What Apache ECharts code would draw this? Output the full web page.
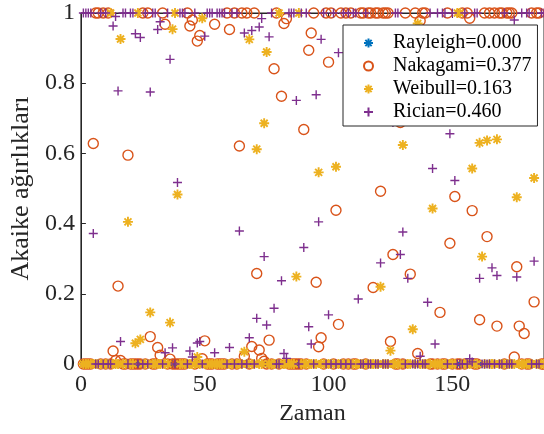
<!DOCTYPE html>
<html>
<head>
<meta charset="utf-8">
<script src="https://cdn.jsdelivr.net/npm/echarts@6/dist/echarts.min.js"></script>
<style>
html,body{margin:0;padding:0;background:#fff;}
#chart{width:544px;height:434px;}
</style>
</head>
<body>
<div id="chart"></div>
<script>
// Akaike weights per time step (Zaman = 1..187)
var rayleigh = [
0,0,0,0,0,0,0,0,0,0, 0,0,0,0,0,0,0,0,0,0, 0,0,0,0,0,0,0,0,0,0, 0,0,0,0,0,0,0,0,0,0,
0,0,0,0,0,0,0,0,0,0, 0,0,0,0,0,0,0,0,0,0, 0,0,0,0,0,0,0,0,0,0, 0,0,0,0,0,0,0,0,0,0,
0,0,0,0,0,0,0,0,0,0, 0,0,0,0,0,0,0,0,0,0, 0,0,0,0,0,0,0,0,0,0, 0,0,0,0,0,0,0,0,0,0,
0,0,0,0,0,0,0,0,0,0, 0,0,0,0,0,0,0,0,0,0, 0,0,0,0,0,0,0,0,0,0, 0,0,0,0,0,0,0,0,0,0,
0,0,0,0,0,0,0,0,0,0, 0,0,0,0,0,0,0,0,0,0, 0,0,0,0,0,0,0,0,0,0, 0,0,0,0,0,0,0,0,0,0,
0,0,0,0,0,0,0
];
var nakagami = [
0,0,0,0,0.628,1,1,0,1,0,
1,0,0.037,0.01,0.222,0.01,0,0,0.595,0,
0,0,0,0,1,0,1,0.078,0,0,
0.047,0.025,1,0.968,0,0.014,0,0,0,0,
0,0,1,0.963,0.98,0,0.92,0.936,0.015,0.066,
0,0,0,0.968,0,0,0,0,1,0.953,
0,1,0,0.621,1,0.022,1,0,0.05,1,
0.258,0.04,0.016,0.008,0,0.068,0,0.841,1,0,
0.763,0.97,0.984,0,0,0,0,0,0,0.668,
0,0.894,0.943,1,0.233,0.049,0.075,0,1,0.86,
1,0,0.438,0.113,1,0,1,0,1,0,
0,0.815,1,1,0,1,1,0.218,1,1,
0.492,1,1,1,0.064,0.312,0,0,0.688,0,
1,0.756,0.256,0.901,1,0.03,0.978,1,1,0.824,
0,0,0.943,0,0.147,0,0,1,0.344,0,
0.477,0,0,1,0,1,0.985,0.437,0,0,
0.126,0.694,1,0.363,1,0.726,1,0.108,1,1,
0,1,1,1,0.02,0.277,0.108,0,0.087,0,
0,1,0.177,1,1,0,0
];
var weibull = [
0,0,0,0,0,0,0,0,0,0,
0,1,0,0,0,0.926,0,0,0.405,0,
0,0.059,1,0.07,0,0,0,0.147,0,0,
0,0,0,0,0,0.118,0.954,1,0.483,0,
0,0,0,0,0,0,0.02,0,0.985,0,
0,0,0,0,0,0,0,0,0,0,
0,0,0,0,0,0.035,0,0.925,0,0,
0.612,0,0,0.686,0.889,0,0,0,0,1,
0,0,0,0,0,0,0.249,1,0,0,
0,0,0,0,0,0.546,0,0,0,0,
0,0,0.562,0,0,0,0,0,0,0,
0,0,0,0,0,0,0,0,0,0,
0.22,0,0,0,0.038,0,0,0,0,0.624,
0,0,0,0.099,0,0.97,0,0,0,0,
0,0.443,0,0,0,0,0,0,0,0,
0,1,1,0,0,0,0,0.557,0,0,
0.63,0.306,0,0.637,0,0,0,0.64,0,0,
0,0,0,0,0,0.475,0,0,0,0,
0,0,0.53,0,0,0,0
];
var rician = [
1,1,1,1,0.372,0,0,1,0,1,
0,0,0.963,0.99,0.778,0.064,1,1,0,1,
1,0.941,0,0.93,0,1,0,0.775,1,1,
0.953,0.975,0,0.032,1,0.868,0.046,0,0.517,1,
1,1,0,0.037,0.02,1,0.06,0.064,0,0.934,
1,1,1,0.032,1,1,1,1,0,0.047,
1,0,1,0.379,0,0.943,0,0.075,0.95,0,
0.13,0.96,0.984,0.306,0.111,0.932,1,0.159,0,0,
0.237,0.03,0.016,1,1,1,0.751,0,1,0.332,
1,0.106,0.057,0,0.767,0.405,0.925,1,0,0.14,
0,1,0,0.887,0,1,0,1,0,1,
1,0.185,0,0,1,0,0,0.782,0,0,
0.288,0,0,0,0.898,0.688,1,1,0.312,0.376,
0,0.244,0.744,0,0,0,0.022,0,0,0.176,
1,0.557,0.057,1,0.853,1,1,0,0.656,1,
0.523,0,0,0,1,0,0.015,0.006,1,1,
0.244,0,0,0,0,0.274,0,0.252,0,0,
1,0,0,0,0.98,0.248,0.892,1,0.913,1,
1,0,0.293,0,0,1,1
];
var seriesNames = ['Rayleigh=0.000', 'Nakagami=0.377', 'Weibull=0.163', 'Rician=0.460'];
var xTicks = [0, 50, 100, 150];

var FONT = 'Liberation Serif, Times New Roman, serif';
var PLUS = 'path://M5,0L5,10M0,5L10,5';
var STAR = 'path://M5,0L5,10M0,5L10,5M1.5,1.5L8.5,8.5M1.5,8.5L8.5,1.5';

function pairs(arr) {
  return arr.map(function (v, i) { return [i + 1, v]; });
}

function mk(name, data, symbol, size, color, width) {
  return {
    name: name,
    type: 'scatter',
    data: pairs(data),
    symbol: symbol,
    symbolSize: size,
    clip: false,
    itemStyle: { color: 'rgba(0,0,0,0)', borderColor: color, borderWidth: width, opacity: 1 },
    emphasis: { disabled: true }
  };
}

var chart = echarts.init(document.getElementById('chart'), null, { renderer: 'canvas' });
chart.setOption({
  animation: false,
  backgroundColor: '#ffffff',
  grid: {
    left: 80, top: 13, bottom: 70, right: -3.5,
    show: true, borderColor: '#262626', borderWidth: 1, backgroundColor: 'transparent'
  },
  legend: {
    orient: 'vertical',
    left: 343, top: 25,
    padding: [8, 6, 4, 20],
    itemGap: 3,
    itemWidth: 9, itemHeight: 9,
    backgroundColor: '#ffffff',
    borderColor: '#262626', borderWidth: 1,
    z: 10,
    textStyle: { fontFamily: FONT, fontSize: 20, color: '#000', padding: [0, 0, 0, 15], lineHeight: 20 },
    data: seriesNames
  },
  xAxis: [{
    type: 'value', min: 0, max: 187, interval: 50,
    name: 'Zaman', nameLocation: 'middle', nameGap: 37,
    nameTextStyle: { fontFamily: FONT, fontSize: 24, color: '#262626' },
    axisLine: { show: true, lineStyle: { color: '#262626', width: 1 } },
    axisTick: { show: true, inside: true, length: 5, lineStyle: { color: '#262626' } },
    axisLabel: {
      fontFamily: FONT, fontSize: 24, color: '#262626', margin: 9, showMaxLabel: false,
      formatter: function (v) { return xTicks.indexOf(v) >= 0 ? String(v) : ''; }
    },
    splitLine: { show: false }
  }, {
    type: 'value', position: 'top', min: 0, max: 187, interval: 50,
    axisLine: { show: true, lineStyle: { color: '#262626', width: 1 } },
    axisTick: { show: true, inside: true, length: 5, lineStyle: { color: '#262626' } },
    axisLabel: { show: false },
    splitLine: { show: false }
  }],
  yAxis: {
    type: 'value', min: 0, max: 1, interval: 0.2,
    name: 'Akaike ağırlıkları', nameLocation: 'middle', nameGap: 46,
    nameTextStyle: { fontFamily: FONT, fontSize: 26, color: '#262626' },
    axisLine: { show: true, lineStyle: { color: '#262626', width: 1 } },
    axisTick: { show: true, inside: true, length: 5, lineStyle: { color: '#262626' } },
    axisLabel: { fontFamily: FONT, fontSize: 24, color: '#262626', margin: 6 },
    splitLine: { show: false }
  },
  series: [
    mk(seriesNames[0], rayleigh, STAR, 8, '#0072BD', 1.3),
    mk(seriesNames[1], nakagami, 'circle', 10, '#D95319', 1.4),
    mk(seriesNames[2], weibull, STAR, 10, '#EDB120', 1.9),
    mk(seriesNames[3], rician, PLUS, 9, '#7E2F8E', 1.4)
  ]
});
</script>
</body>
</html>
